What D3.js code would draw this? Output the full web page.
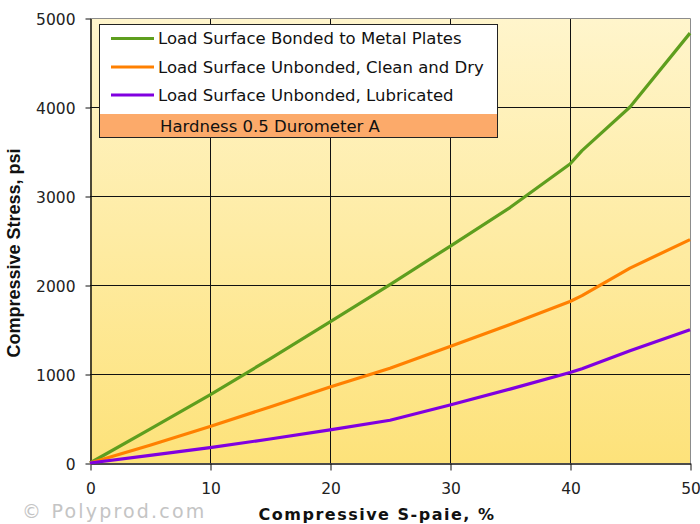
<!DOCTYPE html>
<html><head><meta charset="utf-8">
<script src="https://cdn.jsdelivr.net/npm/d3@7"></script>
<style>body{margin:0;background:#fff}svg{display:block}</style>
</head><body>
<svg id="c" width="700" height="524"></svg>
<script>
const strain = [0, 5, 10, 15, 20, 25, 30, 35, 40, 41, 45, 50];
const bonded = [0, 380, 765, 1170, 1585, 2005, 2435, 2870, 3360, 3510, 4000, 4830];
const cleanDry = [0, 200, 410, 630, 855, 1065, 1310, 1555, 1815, 1880, 2190, 2510];
const lubricated = [0, 85, 172, 270, 372, 480, 652, 830, 1016, 1060, 1260, 1496];
const seriesNames = ["Load Surface Bonded to Metal Plates", "Load Surface Unbonded, Clean and Dry", "Load Surface Unbonded, Lubricated"];
const seriesColors = ["#5e9e1e", "#ff8000", "#8000e0"];
const xTicks = [0, 10, 20, 30, 40, 50];
const yTicks = [0, 1000, 2000, 3000, 4000, 5000];
const noteText = "Hardness 0.5 Durometer A";

const svg = d3.select("#c");
const L = 90, R = 690, T = 18, B = 463;
const x = d3.scaleLinear().domain([0, 50]).range([L, R]);
const y = d3.scaleLinear().domain([0, 5000]).range([B, T]);

const defs = svg.append("defs");
const g = defs.append("linearGradient").attr("id", "bg").attr("x1", 0).attr("y1", 0).attr("x2", 0).attr("y2", 1);
g.append("stop").attr("offset", "0%").attr("stop-color", "#fff5cc");
g.append("stop").attr("offset", "100%").attr("stop-color", "#fde27a");

svg.append("rect").attr("x", L).attr("y", T).attr("width", R - L).attr("height", B - T).attr("fill", "url(#bg)");

// grid
svg.append("g").selectAll("line").data(xTicks.slice(1, -1)).join("line")
  .attr("x1", d => x(d) + 0.5).attr("x2", d => x(d) + 0.5).attr("y1", T).attr("y2", B)
  .attr("stroke", "#111").attr("stroke-width", 1);
svg.append("g").selectAll("line").data(yTicks.slice(1, -1)).join("line")
  .attr("y1", d => y(d) + 0.5).attr("y2", d => y(d) + 0.5).attr("x1", L).attr("x2", R)
  .attr("stroke", "#111").attr("stroke-width", 1);
svg.append("path").attr("d", `M${L},${T + 0.5}H${R + 0.5}V${B}`).attr("fill", "none").attr("stroke", "#8c8c8c");

// axes
const xAxis = svg.append("g").attr("transform", `translate(0.5,${B + 0.5})`)
  .call(d3.axisBottom(x).tickValues(xTicks).tickFormat(d3.format("d")).tickSize(7).tickPadding(12).tickSizeOuter(0));
const yAxis = svg.append("g").attr("transform", `translate(${L + 0.5},0.5)`)
  .call(d3.axisLeft(y).tickValues(yTicks).tickFormat(d3.format("d")).tickSize(5).tickPadding(10).tickSizeOuter(0));
[xAxis, yAxis].forEach(a => {
  a.select(".domain").attr("stroke", "#111").attr("stroke-width", 1.5);
  a.selectAll(".tick line").attr("stroke", "#111");
  a.selectAll("text").attr("font-family", "DejaVu Sans").attr("font-size", "15.5px").attr("fill", "#222");
});
yAxis.selectAll("text").attr("dy", "0.36em");

// lines
const data = [bonded, cleanDry, lubricated];
const line = d3.line().x((d, i) => x(strain[i])).y(d => y(d));
data.forEach((s, k) => {
  svg.append("path").datum(s).attr("d", line).attr("fill", "none")
    .attr("stroke", seriesColors[k]).attr("stroke-width", 3.2).attr("stroke-linejoin", "round");
});

// legend
const lg = svg.append("g");
lg.append("rect").attr("x", 99.5).attr("y", 24.5).attr("width", 398).attr("height", 113).attr("fill", "#fff");
lg.append("rect").attr("x", 99.5).attr("y", 114).attr("width", 398).attr("height", 23.5).attr("fill", "#fcaa6a");
lg.append("rect").attr("x", 99.5).attr("y", 24.5).attr("width", 398).attr("height", 113).attr("fill", "none").attr("stroke", "#222");
const rowY = [38.5, 67, 95];
seriesNames.forEach((n, k) => {
  lg.append("line").attr("x1", 111).attr("x2", 154).attr("y1", rowY[k]).attr("y2", rowY[k])
    .attr("stroke", seriesColors[k]).attr("stroke-width", 3);
  lg.append("text").attr("x", 158).attr("y", rowY[k]).attr("dy", "0.36em")
    .attr("font-family", "DejaVu Sans").attr("font-size", "16.5px").attr("fill", "#111").text(n);
});
lg.append("text").attr("x", 160).attr("y", 126.5).attr("dy", "0.36em")
  .attr("font-family", "DejaVu Sans").attr("font-size", "16.5px").attr("fill", "#111").text(noteText);

// titles
svg.append("text").attr("transform", "translate(20,253) rotate(-90)").attr("text-anchor", "middle")
  .attr("font-family", "Liberation Sans").attr("font-weight", "bold").attr("font-size", "18px").attr("fill", "#111")
  .text("Compressive Stress, psi");
svg.append("text").attr("x", 377).attr("y", 520).attr("text-anchor", "middle")
  .attr("font-family", "DejaVu Sans").attr("font-weight", "bold").attr("font-size", "16px").attr("letter-spacing", "1.5px").attr("fill", "#111")
  .text("Compressive S-paie, %");
svg.append("text").attr("x", 22).attr("y", 518)
  .attr("font-family", "DejaVu Sans").attr("font-size", "19px").attr("letter-spacing", "2.2px").attr("fill", "#c4c4c4")
  .text("© Polyprod.com");
</script>
</body></html>
